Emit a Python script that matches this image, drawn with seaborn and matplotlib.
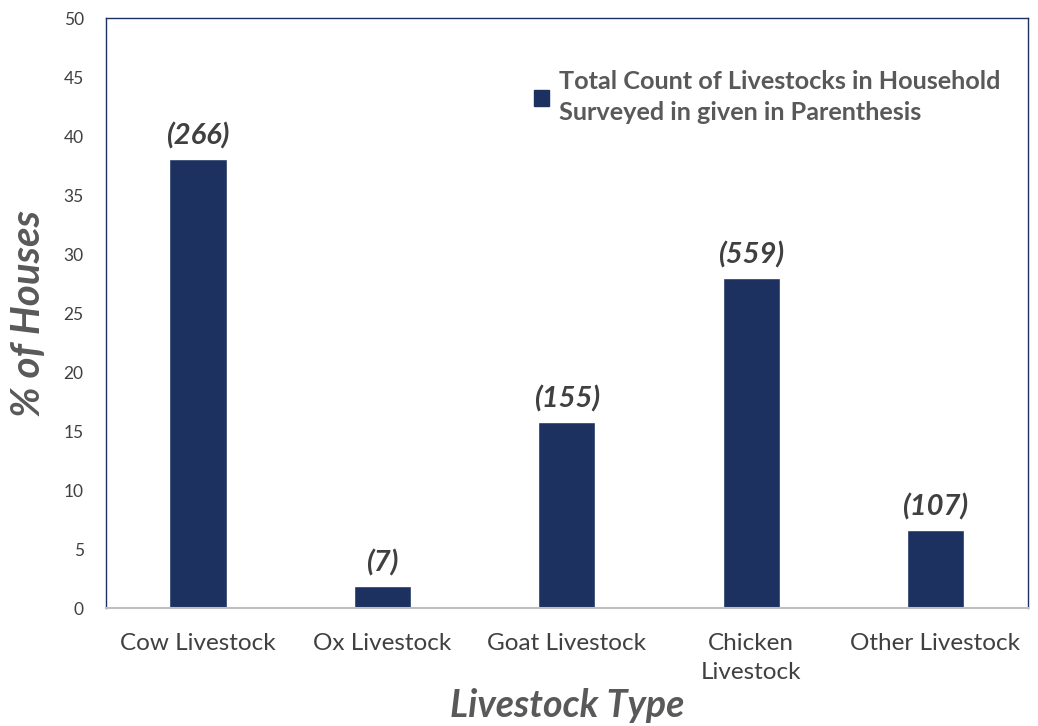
import pandas as pd
import seaborn as sns
import matplotlib.pyplot as plt
from matplotlib.patches import Patch

# Livestock categories, share of surveyed houses (%) and total counts
categories = ["Cow Livestock", "Ox Livestock", "Goat Livestock",
              "Chicken\nLivestock", "Other Livestock"]
pct_houses = [38.1, 1.9, 15.8, 28.0, 6.6]
counts = [266, 7, 155, 559, 107]
yticks = list(range(0, 51, 5))

navy = "#1c3160"
grey = "#595959"

df = pd.DataFrame({"type": categories, "pct": pct_houses})

sns.set_style("white")
plt.rcParams["font.family"] = ["Lato", "DejaVu Sans"]

fig = plt.figure(figsize=(10.38, 7.26), dpi=100)
ax = fig.add_axes([0.102, 0.1625, 0.888, 0.8125])

sns.barplot(data=df, x="type", y="pct", color=navy, width=0.31,
            saturation=1, ax=ax)

# counts in parenthesis above each bar
for i, (v, c) in enumerate(zip(pct_houses, counts)):
    ax.text(i, v + 0.8, f"({c})", ha="center", va="bottom",
            fontsize=21, fontweight="bold", fontstyle="italic", color="#404040")

ax.set_ylim(0, 50)
ax.set_yticks(yticks)
ax.tick_params(axis="y", labelsize=12.5, labelcolor="#404040", length=0, pad=16)
ax.tick_params(axis="x", labelsize=17.5, labelcolor="#404040", length=0, pad=18)
for t in ax.get_xticklabels():
    t.set_linespacing(1.45)

for side in ["left", "top", "right"]:
    ax.spines[side].set_color(navy)
    ax.spines[side].set_linewidth(1.0)
ax.spines["bottom"].set_color("#bfbfbf")
ax.spines["bottom"].set_linewidth(1.5)

ax.set_ylabel("% of Houses", fontsize=29, fontweight="bold",
              fontstyle="italic", color=grey, labelpad=12)
ax.set_xlabel("Livestock Type", fontsize=27, fontweight="bold",
              fontstyle="italic", color=grey, labelpad=4)

handle = Patch(facecolor=navy, edgecolor=navy)
leg = ax.legend([handle],
                ["Total Count of Livestocks in Household\nSurveyed in given in Parenthesis"],
                loc="upper right", bbox_to_anchor=(0.995, 0.95), frameon=False,
                handlelength=0.6, handleheight=0.6, handletextpad=0.4,
                prop={"size": 18.2, "weight": "bold"})
for t in leg.get_texts():
    t.set_color(grey)
    t.set_linespacing(1.4)

fig.savefig("out.png", dpi=100)
